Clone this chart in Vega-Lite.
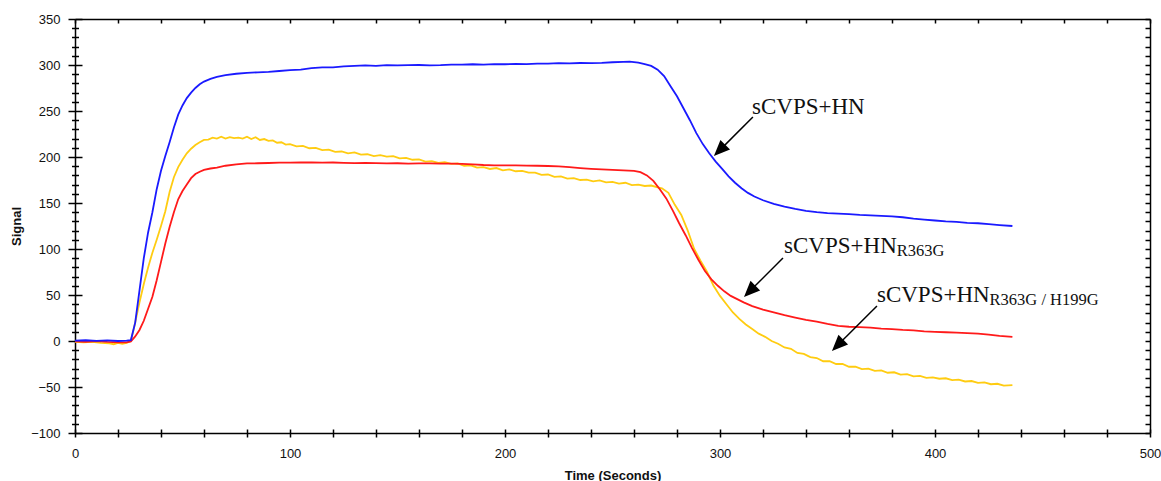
{
  "$schema": "https://vega.github.io/schema/vega-lite/v6.json",
  "width": 1075,
  "height": 414,
  "autosize": {"type": "none"},
  "padding": {"left": 75, "top": 19, "right": 11, "bottom": 48},
  "background": "white",
  "config": {"view": {"stroke": null}, "axis": {"grid": false}},
  "datasets": {
    "blue": [
      {"t":0,"v":0.5},{"t":5,"v":0.8},{"t":10,"v":0.2},{"t":15,"v":0.6},{"t":20,"v":0},{"t":24,"v":0.3},{"t":26,"v":1},{"t":28,"v":20},{"t":30,"v":55},{"t":32,"v":90},{"t":34,"v":118},{"t":36,"v":140},{"t":38,"v":165},{"t":40,"v":185},{"t":42,"v":201},{"t":44,"v":216},{"t":46,"v":232},{"t":48,"v":246},{"t":50,"v":256},{"t":52,"v":264},{"t":54,"v":270},{"t":56,"v":275},{"t":58,"v":279},{"t":60,"v":282},{"t":63,"v":285},{"t":66,"v":287},{"t":70,"v":289},{"t":75,"v":290.5},{"t":80,"v":291.5},{"t":85,"v":292},{"t":90,"v":292.5},{"t":95,"v":293.5},{"t":100,"v":294.5},{"t":105,"v":295},{"t":110,"v":296.5},{"t":115,"v":297.5},{"t":120,"v":297.5},{"t":125,"v":298.5},{"t":130,"v":299},{"t":135,"v":299.5},{"t":140,"v":299},{"t":145,"v":299.8},{"t":150,"v":299.5},{"t":155,"v":299.8},{"t":160,"v":300},{"t":165,"v":299.5},{"t":170,"v":299.8},{"t":175,"v":300.5},{"t":180,"v":300.3},{"t":185,"v":300.8},{"t":190,"v":300.5},{"t":195,"v":301},{"t":200,"v":300.8},{"t":205,"v":301.3},{"t":210,"v":301},{"t":215,"v":301.5},{"t":220,"v":301.6},{"t":225,"v":302},{"t":230,"v":301.8},{"t":235,"v":302.2},{"t":240,"v":302},{"t":245,"v":302.3},{"t":250,"v":303},{"t":255,"v":303.5},{"t":258,"v":303.6},{"t":262,"v":302.5},{"t":265,"v":301},{"t":268,"v":299},{"t":271,"v":295},{"t":274,"v":288},{"t":277,"v":277},{"t":280,"v":266},{"t":283,"v":253},{"t":286,"v":240},{"t":289,"v":226},{"t":292,"v":214},{"t":295,"v":204},{"t":298,"v":195},{"t":301,"v":187},{"t":304,"v":179},{"t":307,"v":172},{"t":310,"v":166},{"t":313,"v":161},{"t":316,"v":157},{"t":320,"v":153},{"t":325,"v":149},{"t":330,"v":146},{"t":335,"v":143.5},{"t":340,"v":141.5},{"t":345,"v":140},{"t":350,"v":139},{"t":355,"v":138.5},{"t":360,"v":138},{"t":365,"v":137},{"t":370,"v":136.5},{"t":375,"v":136},{"t":380,"v":135.5},{"t":385,"v":134.5},{"t":390,"v":133},{"t":395,"v":132},{"t":400,"v":131},{"t":405,"v":130},{"t":410,"v":129.5},{"t":415,"v":128.5},{"t":420,"v":128},{"t":425,"v":127},{"t":430,"v":126},{"t":436,"v":125}
    ],
    "red": [
      {"t":0,"v":-0.5},{"t":5,"v":-1},{"t":10,"v":0},{"t":15,"v":-1},{"t":20,"v":-1.5},{"t":24,"v":-1.5},{"t":26,"v":-0.5},{"t":28,"v":5},{"t":30,"v":12},{"t":32,"v":22},{"t":34,"v":35},{"t":36,"v":48},{"t":38,"v":66},{"t":40,"v":86},{"t":42,"v":106},{"t":44,"v":124},{"t":46,"v":140},{"t":48,"v":154},{"t":50,"v":163},{"t":52,"v":170},{"t":54,"v":177},{"t":56,"v":181.5},{"t":58,"v":184},{"t":60,"v":186},{"t":63,"v":187.5},{"t":66,"v":188.5},{"t":70,"v":190.5},{"t":75,"v":192},{"t":80,"v":193},{"t":85,"v":193.2},{"t":90,"v":193.5},{"t":95,"v":193.8},{"t":100,"v":193.8},{"t":105,"v":194},{"t":110,"v":194.2},{"t":115,"v":193.8},{"t":120,"v":194},{"t":125,"v":193.6},{"t":130,"v":193.3},{"t":135,"v":193.5},{"t":140,"v":193.3},{"t":145,"v":193},{"t":150,"v":193.2},{"t":155,"v":192.8},{"t":160,"v":193},{"t":165,"v":193.1},{"t":170,"v":192.8},{"t":175,"v":192.9},{"t":180,"v":192.6},{"t":185,"v":192},{"t":190,"v":191.3},{"t":195,"v":191},{"t":200,"v":190.8},{"t":205,"v":191},{"t":210,"v":190.6},{"t":215,"v":190.5},{"t":220,"v":190.2},{"t":225,"v":189.8},{"t":230,"v":189},{"t":235,"v":188},{"t":240,"v":187.2},{"t":245,"v":186.6},{"t":250,"v":186},{"t":255,"v":185.5},{"t":260,"v":185},{"t":263,"v":183.5},{"t":266,"v":180},{"t":269,"v":174},{"t":272,"v":165},{"t":275,"v":155},{"t":278,"v":142},{"t":281,"v":128},{"t":284,"v":115},{"t":287,"v":101},{"t":290,"v":88},{"t":293,"v":76},{"t":296,"v":67},{"t":299,"v":60},{"t":302,"v":54},{"t":305,"v":49},{"t":308,"v":45.5},{"t":311,"v":42},{"t":315,"v":38},{"t":320,"v":34},{"t":325,"v":31},{"t":330,"v":28},{"t":335,"v":25.5},{"t":340,"v":23},{"t":345,"v":21},{"t":350,"v":18.5},{"t":355,"v":16.5},{"t":360,"v":15.5},{"t":365,"v":15},{"t":370,"v":14.5},{"t":375,"v":13.5},{"t":380,"v":13},{"t":385,"v":12},{"t":390,"v":11.5},{"t":395,"v":10.5},{"t":400,"v":10},{"t":405,"v":9.5},{"t":410,"v":9},{"t":415,"v":8.5},{"t":420,"v":8},{"t":425,"v":7},{"t":430,"v":5.5},{"t":436,"v":4.5}
    ],
    "yellow": [
      {"t":0,"v":-1},{"t":4,"v":-1.5},{"t":8,"v":-1},{"t":12,"v":-2},{"t":16,"v":-2.5},{"t":18,"v":-3.5},{"t":20,"v":-2},{"t":22,"v":-3},{"t":24,"v":-2},{"t":26,"v":0},{"t":28,"v":20},{"t":30,"v":42},{"t":32,"v":62},{"t":34,"v":80},{"t":36,"v":96},{"t":38,"v":110},{"t":40,"v":125},{"t":42,"v":141},{"t":44,"v":162},{"t":46,"v":178},{"t":48,"v":189},{"t":50,"v":197},{"t":52,"v":204},{"t":54,"v":209},{"t":56,"v":213},{"t":58,"v":216},{"t":60,"v":218.5},{"t":62,"v":219},{"t":64,"v":221},{"t":66,"v":220},{"t":68,"v":222},{"t":70,"v":220},{"t":72,"v":221.5},{"t":74,"v":220.5},{"t":76,"v":221},{"t":78,"v":220},{"t":80,"v":222},{"t":82,"v":219.5},{"t":84,"v":221.5},{"t":86,"v":218.5},{"t":88,"v":219.5},{"t":90,"v":217.5},{"t":92,"v":218},{"t":94,"v":215.5},{"t":96,"v":216},{"t":98,"v":213.5},{"t":100,"v":214},{"t":103,"v":211.5},{"t":106,"v":212},{"t":109,"v":209.5},{"t":112,"v":210},{"t":115,"v":207.5},{"t":118,"v":208},{"t":121,"v":205.5},{"t":124,"v":206},{"t":127,"v":204},{"t":130,"v":205},{"t":133,"v":202.5},{"t":136,"v":203},{"t":139,"v":201},{"t":142,"v":202},{"t":145,"v":200.5},{"t":148,"v":201},{"t":151,"v":198.5},{"t":154,"v":199},{"t":157,"v":197},{"t":160,"v":197.5},{"t":163,"v":195},{"t":166,"v":195.5},{"t":169,"v":193.5},{"t":172,"v":194.5},{"t":175,"v":192.5},{"t":178,"v":193},{"t":181,"v":190.5},{"t":184,"v":191},{"t":187,"v":188.5},{"t":190,"v":189},{"t":193,"v":187},{"t":196,"v":188},{"t":199,"v":185.5},{"t":202,"v":186.5},{"t":205,"v":184.5},{"t":208,"v":185},{"t":211,"v":183},{"t":214,"v":183},{"t":217,"v":180.5},{"t":220,"v":181},{"t":223,"v":178.5},{"t":226,"v":179},{"t":229,"v":176.5},{"t":232,"v":177},{"t":235,"v":175},{"t":238,"v":175.5},{"t":241,"v":173.5},{"t":244,"v":174.5},{"t":247,"v":172.5},{"t":250,"v":173},{"t":253,"v":171},{"t":256,"v":172},{"t":259,"v":169.5},{"t":262,"v":170},{"t":265,"v":168.5},{"t":268,"v":169},{"t":271,"v":167},{"t":273,"v":166},{"t":276,"v":161},{"t":279,"v":148},{"t":282,"v":137},{"t":285,"v":120},{"t":288,"v":100},{"t":291,"v":87},{"t":294,"v":75},{"t":297,"v":60},{"t":300,"v":49},{"t":303,"v":40},{"t":306,"v":31},{"t":309,"v":24},{"t":312,"v":18},{"t":315,"v":13},{"t":318,"v":8},{"t":321,"v":4.5},{"t":324,"v":0},{"t":327,"v":-3},{"t":330,"v":-7},{"t":333,"v":-8.5},{"t":336,"v":-13},{"t":339,"v":-14},{"t":342,"v":-17.5},{"t":345,"v":-18.5},{"t":348,"v":-22},{"t":351,"v":-22},{"t":354,"v":-25},{"t":357,"v":-25},{"t":360,"v":-28},{"t":363,"v":-28},{"t":366,"v":-30.5},{"t":369,"v":-30},{"t":372,"v":-32.5},{"t":375,"v":-32},{"t":378,"v":-34.5},{"t":381,"v":-34},{"t":384,"v":-36.5},{"t":387,"v":-36},{"t":390,"v":-38.5},{"t":393,"v":-38},{"t":396,"v":-40},{"t":399,"v":-39.5},{"t":402,"v":-41},{"t":405,"v":-40.5},{"t":408,"v":-42.5},{"t":411,"v":-42},{"t":414,"v":-44},{"t":417,"v":-43.5},{"t":420,"v":-45.5},{"t":423,"v":-45},{"t":426,"v":-47},{"t":429,"v":-46.5},{"t":432,"v":-48.5},{"t":436,"v":-48}
    ],
    "labels": [
      {"x":314.9,"y":246.7,"text":"sCVPS+HN"},
      {"x":329.8,"y":96,"text":"sCVPS+HN"},
      {"x":373,"y":42.4,"text":"sCVPS+HN"}
    ],
    "subs": [
      {"x":382.2,"y":92.4,"text":"R363G"},
      {"x":425.4,"y":39.1,"text":"R363G / H199G"}
    ],
    "arrows": [
      {"x1":315.3,"y1":243.5,"hx":299.8,"hy":207.2},
      {"x1":329.3,"y1":90.2,"hx":313.8,"hy":54},
      {"x1":373,"y1":38,"hx":354.7,"hy":-4.7}
    ]
  },
  "resolve": {"axis": {"x": "independent", "y": "independent"}},
  "layer": [
    {
      "data": {"name": "yellow"},
      "mark": {"type": "line", "color": "#ffcc11", "strokeWidth": 1.8},
      "encoding": {
        "x": {"field": "t", "type": "quantitative", "scale": {"domain": [0, 500], "nice": false, "zero": false},
          "axis": {"orient": "bottom", "values": [0,20,40,60,80,100,120,140,160,180,200,220,240,260,280,300,320,340,360,380,400,420,440,460,480,500],
            "labelExpr": "datum.value % 100 === 0 ? datum.label : ''", "labelOverlap": false, "labelFlush": false,
            "tickSize": 4, "tickColor": "black", "tickWidth": 1.5, "domainColor": "black", "domainWidth": 1.5,
            "labelFont": "Liberation Sans", "labelFontSize": 13, "labelColor": "#111", "labelPadding": 10,
            "title": "Time (Seconds)", "titleFont": "Liberation Sans", "titleFontSize": 13, "titleFontWeight": "bold", "titleColor": "#111",
            "titleX": 537.5, "titleY": 42, "titleBaseline": "middle", "titleAlign": "center"}},
        "y": {"field": "v", "type": "quantitative", "scale": {"domain": [-100, 350], "nice": false, "zero": false},
          "axis": {"orient": "left", "values": [-100,-90,-80,-70,-60,-50,-40,-30,-20,-10,0,10,20,30,40,50,60,70,80,90,100,110,120,130,140,150,160,170,180,190,200,210,220,230,240,250,260,270,280,290,300,310,320,330,340,350],
            "labelExpr": "datum.value % 50 === 0 ? datum.label : ''", "labelOverlap": false, "labelFlush": false,
            "tickSize": {"condition": {"test": "datum.value % 50 === 0", "value": 7}, "value": 3.5},
            "tickColor": "black", "tickWidth": 1.5, "domainColor": "black", "domainWidth": 1.5,
            "labelFont": "Liberation Sans", "labelFontSize": 13, "labelColor": "#111", "labelPadding": 8,
            "title": "Signal", "titleFont": "Liberation Sans", "titleFontSize": 13, "titleFontWeight": "bold", "titleColor": "#111",
            "titleX": -59, "titleY": 207, "titleAngle": -90, "titleBaseline": "middle", "titleAlign": "center"}}
      }
    },
    {
      "data": {"name": "red"},
      "mark": {"type": "line", "color": "#ff1a1a", "strokeWidth": 1.8},
      "encoding": {
        "x": {"field": "t", "type": "quantitative", "scale": {"domain": [0, 500], "nice": false, "zero": false},
          "axis": {"orient": "bottom", "values": [0,20,40,60,80,100,120,140,160,180,200,220,240,260,280,300,320,340,360,380,400,420,440,460,480,500],
            "labels": false, "domain": false, "tickSize": -4, "tickColor": "black", "tickWidth": 1.5, "title": null}},
        "y": {"field": "v", "type": "quantitative", "scale": {"domain": [-100, 350], "nice": false, "zero": false},
          "axis": {"orient": "left", "values": [-100,-90,-80,-70,-60,-50,-40,-30,-20,-10,0,10,20,30,40,50,60,70,80,90,100,110,120,130,140,150,160,170,180,190,200,210,220,230,240,250,260,270,280,290,300,310,320,330,340,350],
            "labels": false, "domain": false, "tickSize": {"condition": {"test": "datum.value % 50 === 0", "value": -7}, "value": -3.5},
            "tickColor": "black", "tickWidth": 1.5, "title": null}}
      }
    },
    {
      "data": {"name": "blue"},
      "mark": {"type": "line", "color": "#1a1aff", "strokeWidth": 1.8},
      "encoding": {
        "x": {"field": "t", "type": "quantitative", "scale": {"domain": [0, 500], "nice": false, "zero": false},
          "axis": {"orient": "top", "values": [0,20,40,60,80,100,120,140,160,180,200,220,240,260,280,300,320,340,360,380,400,420,440,460,480,500],
            "labels": false, "domain": true, "domainColor": "black", "domainWidth": 1.5, "tickSize": -4, "tickColor": "black", "tickWidth": 1.5, "title": null}},
        "y": {"field": "v", "type": "quantitative", "scale": {"domain": [-100, 350], "nice": false, "zero": false},
          "axis": {"orient": "right", "values": [-100,-90,-80,-70,-60,-50,-40,-30,-20,-10,0,10,20,30,40,50,60,70,80,90,100,110,120,130,140,150,160,170,180,190,200,210,220,230,240,250,260,270,280,290,300,310,320,330,340,350],
            "labels": false, "domain": true, "domainColor": "black", "domainWidth": 1.5, "tickSize": -5,
            "tickColor": "black", "tickWidth": 1.5, "title": null}}
      }
    },
    {
      "data": {"name": "arrows"},
      "mark": {"type": "rule", "color": "black", "strokeWidth": 1.5},
      "encoding": {
        "x": {"field": "x1", "type": "quantitative", "axis": null},
        "y": {"field": "y1", "type": "quantitative", "axis": null},
        "x2": {"field": "hx"},
        "y2": {"field": "hy"}
      }
    },
    {
      "data": {"name": "arrows"},
      "mark": {"type": "point", "shape": "M0,-1L-0.85,1L0.85,1Z", "filled": true, "color": "black", "opacity": 1, "size": 256, "angle": 225, "strokeWidth": 0},
      "encoding": {
        "x": {"field": "hx", "type": "quantitative", "axis": null},
        "y": {"field": "hy", "type": "quantitative", "axis": null}
      }
    },
    {
      "data": {"name": "labels"},
      "mark": {"type": "text", "font": "Liberation Serif", "fontSize": 23, "align": "left", "baseline": "alphabetic", "color": "#111"},
      "encoding": {
        "x": {"field": "x", "type": "quantitative", "axis": null},
        "y": {"field": "y", "type": "quantitative", "axis": null},
        "text": {"field": "text"}
      }
    },
    {
      "data": {"name": "subs"},
      "mark": {"type": "text", "font": "Liberation Serif", "fontSize": 16.5, "align": "left", "baseline": "alphabetic", "color": "#111"},
      "encoding": {
        "x": {"field": "x", "type": "quantitative", "axis": null},
        "y": {"field": "y", "type": "quantitative", "axis": null},
        "text": {"field": "text"}
      }
    }
  ]
}
